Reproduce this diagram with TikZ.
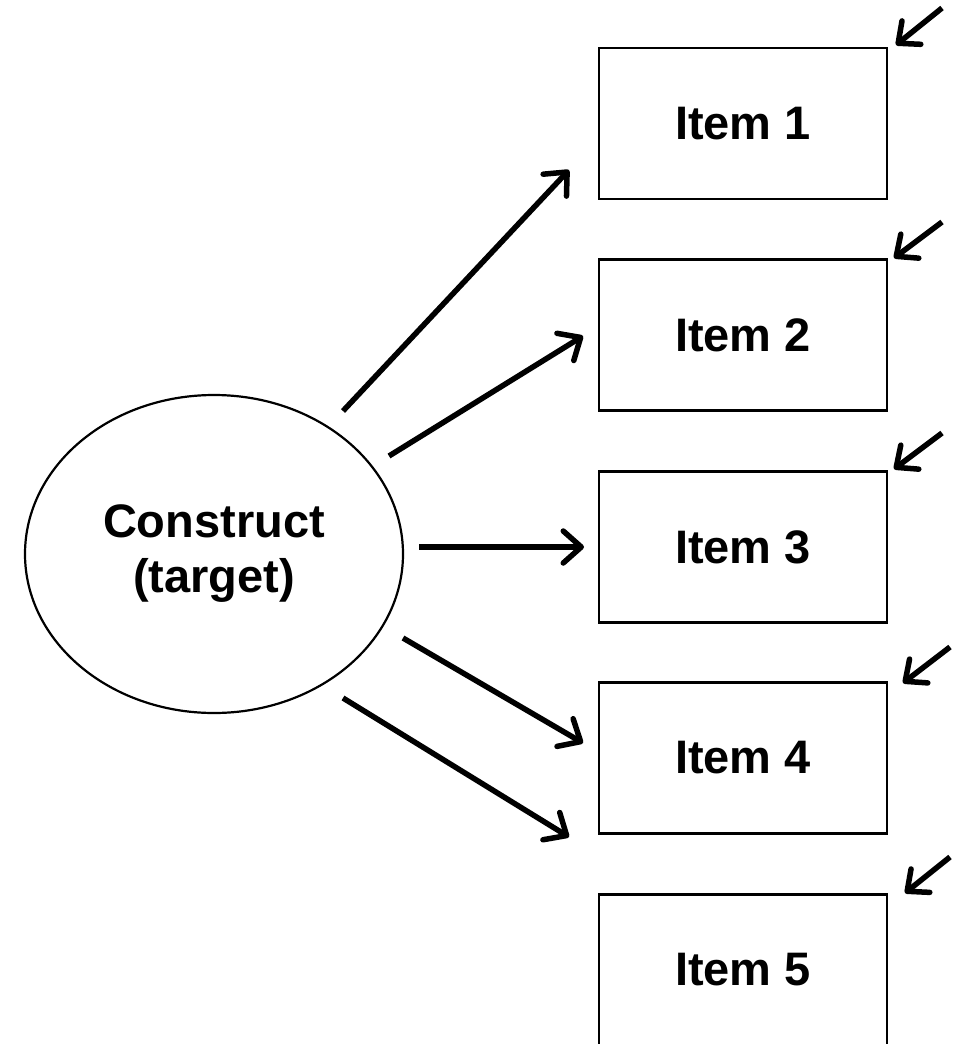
\documentclass[tikz,border=0pt]{standalone}
\usepackage{fontspec}
\setmainfont{Liberation Sans}
\usetikzlibrary{arrows.meta,shapes.geometric}

\tikzset{
  latent/.style={draw, ellipse, line width=2.2pt, inner sep=0pt,
    minimum width=378pt, minimum height=318pt, align=center,
    font=\fontsize{47}{55}\selectfont\bfseries},
  itembox/.style={draw, rectangle, line width=2.6pt, inner sep=0pt,
    minimum width=288pt, minimum height=151pt,
    font=\fontsize{47}{55}\selectfont\bfseries},
  loading/.style={line width=5.5pt,
    -{Straight Barb[length=18pt,width=32pt,line cap=round,line join=round]}},
  errarrow/.style={line width=5.5pt,
    -{Straight Barb[length=17pt,width=30pt,line cap=round,line join=round]}}
}

\begin{document}
\begin{tikzpicture}[x=1pt,y=-1pt]
\useasboundingbox (0,0) rectangle (963,1044);
\clip (0,0) rectangle (963,1044);
\fill[white] (0,0) rectangle (963,1044);

% latent construct
\node[latent] (c) at (214,554) {Construct\\(target)};

% observed items
\node[itembox] (i1) at (743,123.5) {Item 1};
\node[itembox] (i2) at (743,335)   {Item 2};
\node[itembox] (i3) at (743,547)   {Item 3};
\node[itembox] (i4) at (743,758)   {Item 4};
\node[itembox] (i5) at (743,970)   {Item 5};

% loading arrows: start and end points
\coordinate (s1) at (343,411);  \coordinate (t1) at (569,170);
\coordinate (s2) at (389,456);  \coordinate (t2) at (583,336);
\coordinate (s3) at (419,547);  \coordinate (t3) at (584,547);
\coordinate (s4) at (403,638);  \coordinate (t4) at (583,743);
\coordinate (s5) at (343,698);  \coordinate (t5) at (569,837);

\foreach \k in {1,...,5} \draw[loading] (s\k) -- (t\k);

% error terms on each item
\coordinate (e1) at (942,8);    \coordinate (f1) at (896,45);
\coordinate (e2) at (942,222);  \coordinate (f2) at (894,258);
\coordinate (e3) at (942,433);  \coordinate (f3) at (894,469);
\coordinate (e4) at (950,647);  \coordinate (f4) at (903,683);
\coordinate (e5) at (950,857);  \coordinate (f5) at (905,893);

\foreach \k in {1,...,5} \draw[errarrow] (e\k) -- (f\k);
\end{tikzpicture}
\end{document}
